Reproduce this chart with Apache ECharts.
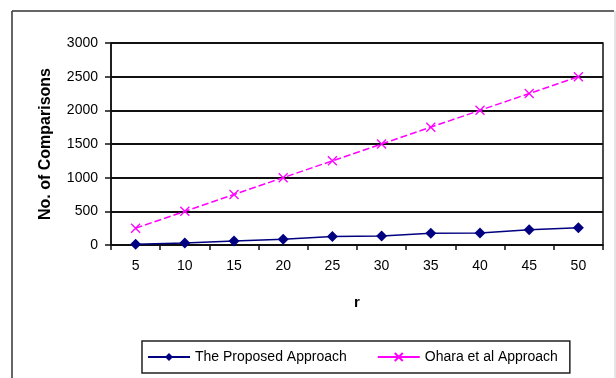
<!DOCTYPE html>
<html>
<head>
<meta charset="utf-8">
<script src="https://cdn.jsdelivr.net/npm/echarts@6/dist/echarts.min.js"></script>
<style>html,body{margin:0;padding:0;background:#fff;}#c{width:616px;height:378px;}</style>
</head>
<body>
<div id="c"></div>
<script>
var categories = ['5','10','15','20','25','30','35','40','45','50'];
var proposedValues = [10, 30, 60, 85, 125, 135, 175, 180, 225, 255];
var oharaValues = [250, 500, 750, 1000, 1250, 1500, 1750, 2000, 2250, 2500];
var seriesNames = ['The Proposed Approach', 'Ohara et al Approach'];

var chart = echarts.init(document.getElementById('c'), null, {renderer: 'canvas'});
var font = 'Liberation Sans, Arial, sans-serif';
chart.setOption({
  backgroundColor: '#fff',
  animation: false,
  textStyle: {fontFamily: font, color: '#000'},
  graphic: [
    {type: 'line', shape: {x1: 12, y1: 11, x2: 614, y2: 11}, style: {stroke: '#333', lineWidth: 1.5}},
    {type: 'line', shape: {x1: 12, y1: 11, x2: 12, y2: 378}, style: {stroke: '#333', lineWidth: 1.5}},
    {type: 'line', shape: {x1: 615, y1: 11, x2: 615, y2: 378}, style: {stroke: '#ccc', lineWidth: 1}}
  ],
  grid: {left: 111, right: 13, top: 43, bottom: 133, show: true, borderColor: '#111', borderWidth: 1.5, containLabel: false},
  legend: {
    left: 142, top: 341,
    padding: [9, 12, 9, 5],
    borderColor: '#222', borderWidth: 1.5,
    itemWidth: 42, itemHeight: 10, itemGap: 30,
    textStyle: {fontFamily: font, fontSize: 14, color: '#000'},
    data: [
      {name: seriesNames[0]},
      {name: seriesNames[1], lineStyle: {type: 'solid'}}
    ]
  },
  xAxis: {
    type: 'category', data: categories, boundaryGap: true,
    name: 'r', nameLocation: 'middle', nameGap: 50,
    nameTextStyle: {fontFamily: font, fontSize: 15, fontWeight: 'bold', color: '#000'},
    axisLine: {show: true, lineStyle: {color: '#111', width: 1.5}},
    axisTick: {show: true, alignWithLabel: false, inside: false, length: 5, lineStyle: {color: '#111', width: 1.5}},
    axisLabel: {fontFamily: font, fontSize: 14, color: '#000', margin: 14},
    splitLine: {show: false}
  },
  yAxis: {
    type: 'value', min: 0, max: 3000, interval: 500,
    name: 'No. of Comparisons', nameLocation: 'middle', nameGap: 57, nameRotate: 90,
    nameTextStyle: {fontFamily: font, fontSize: 16, fontWeight: 'bold', color: '#000'},
    axisLine: {show: true, lineStyle: {color: '#111', width: 1.5}},
    axisTick: {show: true, inside: false, length: 6, lineStyle: {color: '#111', width: 1.5}},
    axisLabel: {fontFamily: font, fontSize: 14, color: '#000', margin: 13, formatter: function (v) { return String(v); }},
    splitLine: {show: true, lineStyle: {color: '#111', width: 1.8}}
  },
  series: [
    {
      name: seriesNames[0], type: 'line', data: proposedValues,
      symbol: 'diamond', symbolSize: 11,
      lineStyle: {color: '#000080', width: 1.5},
      itemStyle: {color: '#000080'}
    },
    {
      name: seriesNames[1], type: 'line', data: oharaValues,
      symbol: 'path://M0,0L10,10M10,0L0,10', symbolSize: 9,
      lineStyle: {color: '#FF00FF', width: 1.5, type: [7, 3]},
      itemStyle: {color: 'none', borderColor: '#FF00FF', borderWidth: 1.3}
    }
  ]
});
</script>
</body>
</html>
